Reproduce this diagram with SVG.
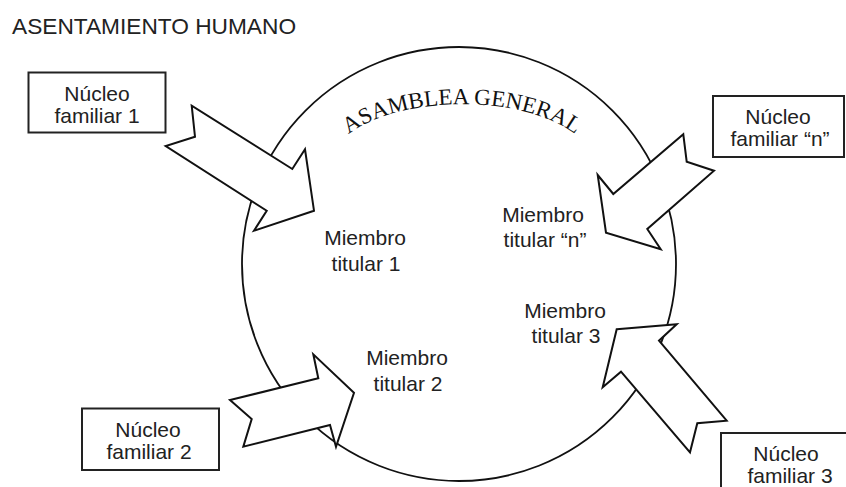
<svg xmlns="http://www.w3.org/2000/svg" width="846" height="487" viewBox="0 0 846 487">
<style>
.t{font-family:"Liberation Sans",Arial,sans-serif;font-size:21px;fill:#222;text-anchor:middle}
.box{fill:#fff;stroke:#222;stroke-width:2}
.arr{fill:#fff;stroke:#111;stroke-width:2;stroke-linejoin:miter}
.ring{fill:none;stroke:#111;stroke-width:1.8}
</style>
<defs>
<path id="arcText" d="M 344 138 C 395 93, 529 93, 580 138"/>
</defs>
<rect width="846" height="487" fill="#fff"/>
<g id="title"><text x="12" y="33.5" style="font-family:'Liberation Sans',Arial,sans-serif;font-size:22.7px;fill:#222">ASENTAMIENTO HUMANO</text></g>
<g id="asamblea">
<circle class="ring" cx="459" cy="264" r="217"/>
<text style="font-family:'Liberation Serif','Times New Roman',serif;font-size:23px;fill:#111"><textPath href="#arcText" startOffset="50%" text-anchor="middle">ASAMBLEA GENERAL</textPath></text>
</g>
<g id="connectors">
<polygon class="arr" points="191.7,105.7 195,136.7 165.7,146 266.7,210.7 254,230.7 314,210.7 305,149.3 292.3,169"/>
<polygon class="arr" points="683.3,134.3 686.7,161.7 714,170.7 647.3,229 660.7,249.3 606,232.7 597.7,175 613.3,194"/>
<polygon class="arr" points="230,400 251.7,419 243.3,446.7 330,425 336,446.7 354,392.7 313.3,354.3 318.3,378.3"/>
<polygon class="arr" points="616.7,329.3 676.7,324.3 659,340.7 726.7,420.7 697.3,423.3 690,452.3 621,371.7 602.7,387.3"/>
</g>
<g id="nucleo1"><rect class="box" x="28.5" y="72.5" width="137" height="60"/><text class="t" x="97" y="100.5">Núcleo</text><text class="t" x="97" y="122.5">familiar 1</text></g>
<g id="nucleoN"><rect class="box" x="713" y="96" width="131" height="61"/><text class="t" x="778" y="124">Núcleo</text><text class="t" x="780" y="146">familiar “n”</text></g>
<g id="nucleo2"><rect class="box" x="82" y="408.5" width="137" height="61.5"/><text class="t" x="148" y="437">Núcleo</text><text class="t" x="149" y="459">familiar 2</text></g>
<g id="nucleo3"><rect class="box" x="721" y="433" width="140" height="70"/><text class="t" x="786" y="461">Núcleo</text><text class="t" x="790" y="483">familiar 3</text></g>
<g id="miembro1"><text class="t" x="365" y="245">Miembro</text><text class="t" x="366" y="270.7">titular 1</text></g>
<g id="miembroN"><text class="t" x="543" y="221.7">Miembro</text><text class="t" x="545" y="246.7">titular “n”</text></g>
<g id="miembro3"><text class="t" x="565" y="318.3">Miembro</text><text class="t" x="566" y="342.7">titular 3</text></g>
<g id="miembro2"><text class="t" x="407" y="365">Miembro</text><text class="t" x="408" y="391">titular 2</text></g>
</svg>
